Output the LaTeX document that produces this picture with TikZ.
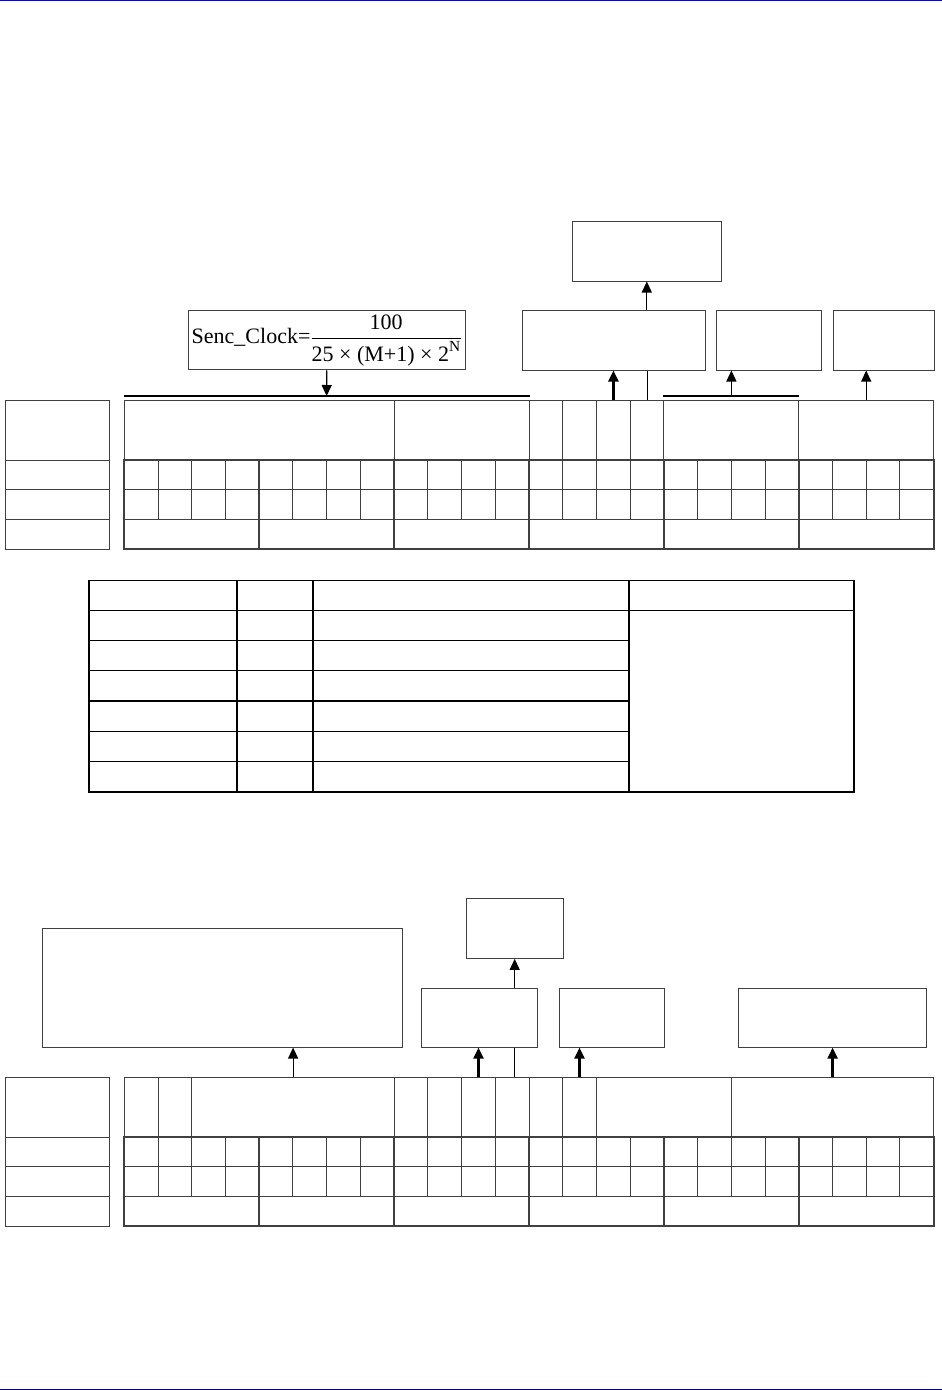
\documentclass[tikz,border=0pt]{standalone}
\usepackage{amsmath}
\usepackage{fontspec}
\setmainfont{Liberation Serif}
\usetikzlibrary{arrows.meta}

\tikzset{
    box/.style={draw=black!75, line width=1pt, inner sep=0pt},
    cell/.style={draw=black!75, line width=1pt},
    group/.style={draw=black!75, line width=2.2pt},
    tbl/.style={draw=black, line width=1.1pt},
    link/.style={draw=black, line width=1.2pt},
    arr/.style={link, -{Triangle[width=10pt,length=11pt]}},
    arrbold/.style={draw=black, line width=2.3pt, -{Triangle[width=10pt,length=11pt]}}
}

% x of bit boundary k (24 bits per register)
\newcommand{\bitx}[1]{124.3+33.725*#1}

% label column, bit rows and nibble frame of a register, #1 = top y
\newcommand{\regbody}[1]{%
    \draw[cell] (5.3,#1) rectangle (109.8,#1+149);
    \foreach \dy in {60,89.7,119.3} \draw[cell] (5.3,#1+\dy) -- (109.8,#1+\dy);
    \draw[cell] (124.3,#1) rectangle (933.7,#1+60);
    \foreach \k in {1,...,23} \draw[cell] ({\bitx{\k}},#1+60) -- ({\bitx{\k}},#1+119.3);
    \draw[cell] (124.3,#1+89.7) -- (933.7,#1+89.7);
    \draw[cell] (124.3,#1+119.3) -- (933.7,#1+119.3);
    \draw[group] (124.3,#1+60) rectangle (933.7,#1+149);
    \foreach \g in {4,8,...,20} \draw[group] ({\bitx{\g}},#1+60) -- ({\bitx{\g}},#1+149);
}

\begin{document}
\begin{tikzpicture}[x=1pt, y=-1pt]
    \useasboundingbox (0,0) rectangle (942,1390);

    % --- Page rules ---
    \draw[blue, line width=1.3pt] (0,0.7) -- (942,0.7);
    \draw[blue!65!black, line width=1.3pt] (0,1389.3) -- (942,1389.3);

    % --- Upper register ---
    \regbody{400}
    \foreach \k in {8,12,13,14,15,16,20} \draw[cell] ({\bitx{\k}},400) -- ++(0,60);
    \draw[link] (124.3,396) -- (530,396);
    \draw[link] (663.3,396) -- (799.3,396);

    \coordinate (tA) at (326.6,396);
    \coordinate (tB) at (613.4,400);
    \coordinate (tC) at (647.1,400);
    \coordinate (tD) at (731.4,396);
    \coordinate (tE) at (866.2,400);

    \node[box, minimum width=149pt, minimum height=60pt] (ctrl) at (646.8,251) {};
    \node[box, minimum width=183pt, minimum height=60pt] (sel) at (613.8,340) {};
    \node[box, minimum width=105pt, minimum height=60pt] (mid) at (768.8,340) {};
    \node[box, minimum width=101.4pt, minimum height=60pt] (side) at (884,340) {};
    \node[box, minimum width=277pt, minimum height=59.3pt] (clock) at (326.8,340.3)
        {\fontsize{22}{26}\selectfont Senc\_Clock=$\dfrac{\text{100}}{\text{25 × (M+1) × 2}^{\text{N}}}$};

    \draw[arr] (clock.south) -- (tA);
    \draw[arrbold] (tB) -- (tB |- sel.south);
    \draw[link] (tC |- sel.south) -- (tC);
    \draw[arr] (sel.north -| ctrl.south) -- (ctrl.south);
    \draw[arr] (tD) -- (tD |- mid.south);
    \draw[arr] (tE) -- (tE |- side.south);

    % --- Table ---
    \draw[tbl] (89,580.3) rectangle (854,792);
    \foreach \x in {237,313,629} \draw[tbl] (\x,580.3) -- (\x,792);
    \draw[tbl] (89,610.3) -- (854,610.3);
    \foreach \y in {640.5,670.8,701,731.2,761.5} \draw[tbl] (89,\y) -- (629,\y);

    % --- Lower register ---
    \regbody{1077}
    \foreach \k in {1,2,8,9,10,11,12,13,14,18} \draw[cell] ({\bitx{\k}},1077) -- ++(0,60);

    \coordinate (bA) at (293.1,1077);
    \coordinate (bB) at (478.5,1077);
    \coordinate (bC) at (514.7,1077);
    \coordinate (bD) at (579.5,1077);
    \coordinate (bE) at (832.6,1077);

    \node[box, minimum width=360.5pt, minimum height=118.7pt] (note) at (222.4,987.7) {};
    \node[box, minimum width=97.2pt, minimum height=60pt] (top) at (514.7,928.3) {};
    \node[box, minimum width=115.9pt, minimum height=58.7pt] (lo1) at (479.4,1017.7) {};
    \node[box, minimum width=105pt, minimum height=58.7pt] (lo2) at (611.8,1017.7) {};
    \node[box, minimum width=187.7pt, minimum height=58.7pt] (lo3) at (832.8,1017.7) {};

    \draw[arr] (bA) -- (bA |- note.south);
    \draw[arrbold] (bB) -- (bB |- lo1.south);
    \draw[link] (bC |- lo1.south) -- (bC);
    \draw[arr] (top.south |- lo1.north) -- (top.south);
    \draw[arrbold] (bD) -- (bD |- lo2.south);
    \draw[arrbold] (bE) -- (bE |- lo3.south);
\end{tikzpicture}
\end{document}
